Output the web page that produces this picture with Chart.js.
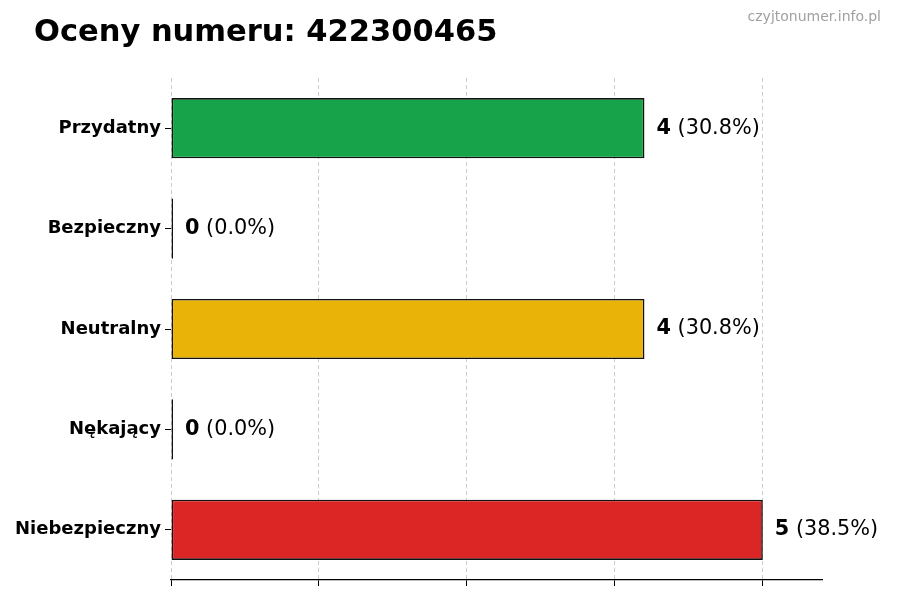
<!DOCTYPE html>
<html lang="pl">
<head>
  <meta charset="UTF-8" />
  <title>Oceny numeru: 422300465</title>
  <script src="https://cdn.jsdelivr.net/npm/chart.js"></script>
  <style>
    body { margin: 0; background: #fff; }
    canvas { display: block; }
  </style>
</head>
<body>
  <canvas id="chart" width="900" height="600"></canvas>

  <script>
    const categories = ["Przydatny", "Bezpieczny", "Neutralny", "Nękający", "Niebezpieczny"];
    const counts = [4, 0, 4, 0, 5];
    const percents = ["30.8", "0.0", "30.8", "0.0", "38.5"];
    const barColors = ["#16a34a", "#eab308", "#eab308", "#eab308", "#dc2626"];
    const xTicks = [0, 1.25, 2.5, 3.75, 5];
    const xMax = 5.5;

    const FONT = "'DejaVu Sans', sans-serif";

    // title, watermark and value labels next to bars
    const textPlugin = {
      id: "texts",
      afterDatasetsDraw(chart) {
        const ctx = chart.ctx;
        ctx.save();
        const bars = chart.getDatasetMeta(0).data;
        bars.forEach((bar, i) => {
          const x = bar.x + 12;
          ctx.textBaseline = "middle";
          ctx.fillStyle = "#000";
          ctx.font = "bold 20.8px " + FONT;
          ctx.textAlign = "left";
          const num = String(counts[i]);
          ctx.fillText(num, x, bar.y);
          const w = ctx.measureText(num).width;
          ctx.font = "20.8px " + FONT;
          ctx.fillText(" (" + percents[i] + "%)", x + w, bar.y);
        });

        ctx.textBaseline = "alphabetic";
        ctx.textAlign = "left";
        ctx.font = "bold 30.5px " + FONT;
        ctx.fillStyle = "#000";
        ctx.fillText("Oceny numeru: 422300465", 34, 41);

        ctx.textAlign = "right";
        ctx.textBaseline = "middle";
        ctx.font = "14px " + FONT;
        ctx.fillStyle = "#a0a0a0";
        ctx.fillText("czyjtonumer.info.pl", 881, 17);
        ctx.restore();
      }
    };

    new Chart(document.getElementById("chart").getContext("2d"), {
      type: "bar",
      data: {
        labels: categories,
        datasets: [{
          data: counts,
          backgroundColor: barColors,
          borderColor: "#111",
          borderWidth: 1.6,
          borderSkipped: false,
          minBarLength: 2,
          barPercentage: 0.6,
          categoryPercentage: 1.0
        }]
      },
      options: {
        indexAxis: "y",
        responsive: false,
        animation: false,
        layout: { padding: { top: 78, right: 78, bottom: 0, left: 0 } },
        plugins: {
          legend: { display: false },
          tooltip: { enabled: false }
        },
        scales: {
          x: {
            min: 0,
            max: xMax,
            afterBuildTicks: (scale) => { scale.ticks = xTicks.map(v => ({ value: v })); },
            afterFit: (scale) => { scale.height = 20; },
            ticks: { display: false },
            grid: {
              color: "rgba(0,0,0,0.2)",
              tickColor: "#000",
              tickLength: 6,
              tickBorderDash: []
            },
            border: { display: true, color: "#000", width: 1.3, dash: [4, 3] }
          },
          y: {
            afterFit: (scale) => { scale.width = 171; },
            ticks: {
              color: "#000",
              padding: 4,
              font: { family: FONT, size: 18, weight: "bold" }
            },
            grid: {
              offset: false,
              drawOnChartArea: false,
              tickLength: 6,
              tickWidth: 1,
              tickColor: "#000"
            },
            border: { display: false }
          }
        }
      },
      plugins: [textPlugin]
    });
  </script>
</body>
</html>
